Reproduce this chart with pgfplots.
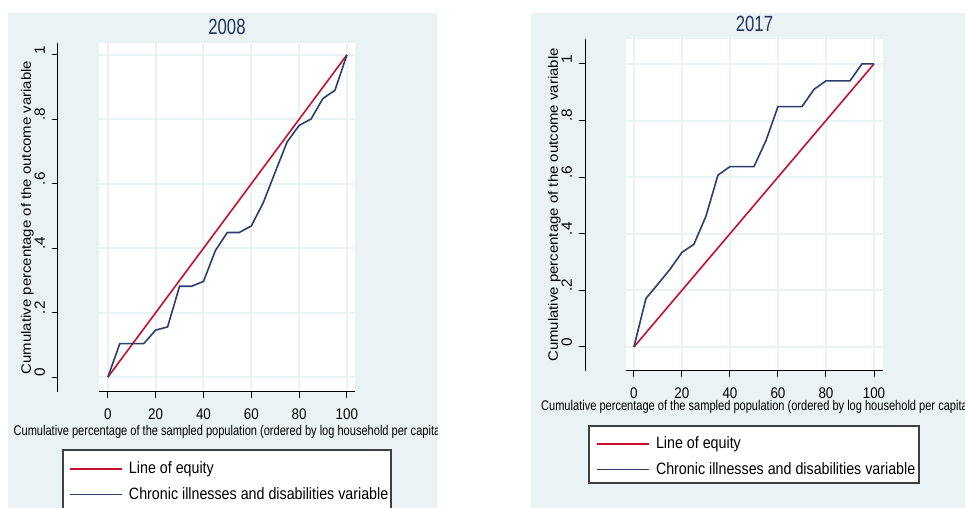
\documentclass[border=0pt]{standalone}
\usepackage{fontspec}
\setmainfont{Liberation Sans}
\newfontfamily\narrowsf[FakeStretch=0.87]{Liberation Sans}
\newfontfamily\xtitlesf[FakeStretch=0.79]{Liberation Sans}
\newfontfamily\titlesf[FakeStretch=0.76]{Liberation Sans}
% rotated texts: squeezed across the line, so a smaller size stretched along it
\newfontfamily\ylabsf[FakeStretch=1.1]{Liberation Sans}
\newfontfamily\ytsf[FakeStretch=1.03]{Liberation Sans}
\usepackage{pgfplots}
\pgfplotsset{compat=1.18}

\definecolor{bgc}{RGB}{234,242,243}
\definecolor{gridc}{RGB}{234,242,243}
\definecolor{eqred}{RGB}{200,16,46}
\definecolor{chnavy}{RGB}{44,62,110}
\definecolor{titc}{RGB}{30,52,94}

% data
\pgfplotstableread{
x y
0 0
5 0.104
10 0.104
15 0.104
20 0.146
25 0.156
30 0.282
35 0.282
40 0.297
45 0.393
50 0.449
55 0.449
60 0.469
65 0.541
70 0.636
75 0.730
80 0.781
85 0.801
90 0.865
95 0.890
100 1
}\chronicA
\pgfplotstableread{
x y
0 0
5 0.171
10 0.222
15 0.274
20 0.334
25 0.363
30 0.462
35 0.607
40 0.637
45 0.637
50 0.637
55 0.729
60 0.849
65 0.849
70 0.849
75 0.910
80 0.940
85 0.940
90 0.940
95 1
100 1
}\chronicB

\pgfplotsset{
  concpanel/.style={
    scale only axis, anchor=south west,
    enlargelimits=false,
    axis lines*=left,
    axis y line shift=20.5pt,
    axis line style={black, line width=0.5pt},
    axis background/.style={fill=white},
    tick align=outside, major tick length=3pt,
    tick style={black, line width=0.5pt},
    grid=major, major grid style={gridc, line width=1pt},
    xtick={0,20,40,60,80,100}, xticklabels={0,20,40,60,80,100},
    ytick={0,0.2,0.4,0.6,0.8,1}, yticklabels={0,.2,.4,.6,.8,1},
    /pgf/number format/assume math mode=true,
    xticklabel style={font=\narrowsf\fontsize{7.7}{8}\selectfont, yshift=-2pt},
    yticklabel style={font=\ytsf\fontsize{7.4}{8}\selectfont, rotate=90, anchor=south, xshift=2.5pt},
    xlabel={Cumulative percentage of the sampled population (ordered by log household per capita},
    ylabel={Cumulative percentage of the outcome variable},
    xlabel style={font=\xtitlesf\fontsize{7}{8}\selectfont, anchor=center},
    ylabel style={font=\ylabsf\fontsize{6.8}{7}\selectfont, anchor=center},
    every axis title/.style={at={(0.5,1)}, anchor=center,
      font=\titlesf\fontsize{11}{12}\selectfont, color=titc},
    legend style={draw=none, fill=none, anchor=north west, inner sep=0pt,
      row sep=4.3pt, column sep=2.5pt, cells={anchor=west},
      nodes={inner sep=0.5pt},
      font=\narrowsf\fontsize{8.2}{9}\selectfont},
    legend image code/.code={\draw[#1] (0pt,0pt) -- (26pt,0pt);},
  }
}

\begin{document}
\begin{tikzpicture}
% panel 2008
\begin{scope}
\clip (4pt,0pt) rectangle (218.5pt,247.5pt);
\fill[bgc] (4pt,0pt) rectangle (218.5pt,247.5pt);
\draw[black!75, line width=0.6pt, fill=white] (31.5pt,-6pt) rectangle (195.5pt,29pt);
\begin{axis}[concpanel,
  at={(49.5pt,58pt)}, width=128pt, height=174.5pt,
  xmin=-3.7, xmax=103.4, ymin=-0.046, ymax=1.037,
  title={2008}, title style={at={(0.5,1.0458)}},
  xlabel style={at={(axis description cs:0.5,-0.1146)}},
  ylabel style={at={(axis description cs:-0.28,0.5)}},
  legend style={at={(-0.1172,-0.1957)}},
]
\addplot[eqred, line width=0.8pt] coordinates {(0,0) (100,1)};
\addlegendentry{Line of equity}
\addplot[chnavy, line width=0.8pt] table[x=x, y=y] {\chronicA};
\addlegendentry{\vphantom{y}Chronic illnesses and disabilities variable}
\end{axis}
\end{scope}
% panel 2017
\begin{scope}
\clip (265.5pt,0pt) rectangle (482.5pt,247.5pt);
\fill[bgc] (265.5pt,0pt) rectangle (482.5pt,247.5pt);
\draw[black!75, line width=0.6pt, fill=white] (294.5pt,12.5pt) rectangle (459.5pt,41pt);
\begin{axis}[concpanel,
  at={(313pt,68.5pt)}, width=128.5pt, height=166pt,
  xmin=-3.3, xmax=103.75, ymin=-0.085, ymax=1.088,
  title={2017}, title style={at={(0.5,1.0452)}},
  xlabel style={at={(axis description cs:0.5,-0.108)}},
  ylabel style={at={(axis description cs:-0.279,0.5)}},
  legend style={at={(-0.1167,-0.1937)}},
]
\addplot[eqred, line width=0.8pt] coordinates {(0,0) (100,1)};
\addlegendentry{Line of equity}
\addplot[chnavy, line width=0.8pt] table[x=x, y=y] {\chronicB};
\addlegendentry{\vphantom{y}Chronic illnesses and disabilities variable}
\end{axis}
\end{scope}
\pgfresetboundingbox
\path[use as bounding box] (0pt,0pt) rectangle (482.5pt,254pt);
\end{tikzpicture}
\end{document}
